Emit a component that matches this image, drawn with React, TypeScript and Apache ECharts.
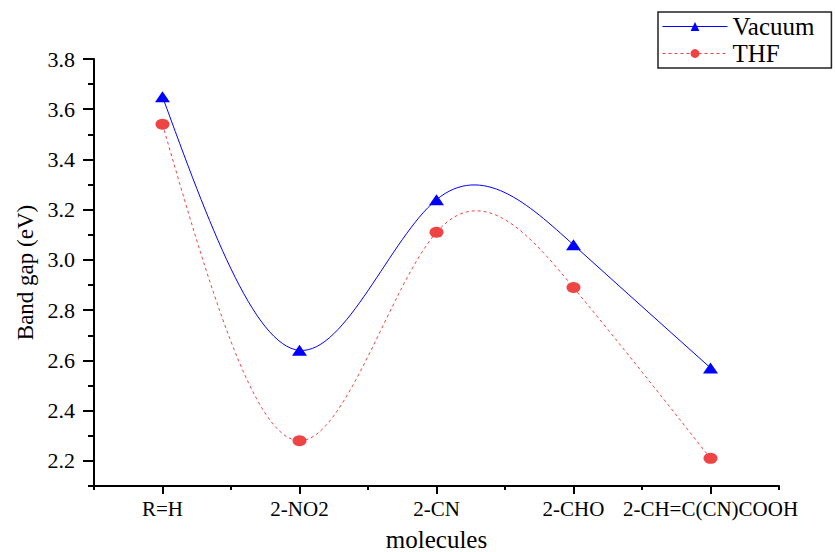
import React, { useEffect, useRef } from "react";
import * as echarts from "echarts";

const categories = ["R=H", "2-NO2", "2-CN", "2-CHO", "2-CH=C(CN)COOH"];
const vacuum = [3.65, 2.64, 3.24, 3.06, 2.57];
const thf = [3.54, 2.28, 3.11, 2.89, 2.21];
const yMajorTicks = [2.2, 2.4, 2.6, 2.8, 3.0, 3.2, 3.4, 3.6, 3.8];
const yMinorTicks = [2.1, 2.3, 2.5, 2.7, 2.9, 3.1, 3.3, 3.5, 3.7];

const FONT = "Liberation Serif";
const BLUE = "#0000FF";
const RED = "#EE4444";

// Natural cubic spline slopes (unit spacing), used only to draw the connecting curve
function splineSlopes(ys: number[]): number[][] {
  const n = ys.length;
  const M = new Array(n).fill(0);
  const m = n - 2;
  if (m > 0) {
    const a = new Array(m).fill(1);
    const b = new Array(m).fill(4);
    const c = new Array(m).fill(1);
    const d = new Array(m);
    for (let i = 0; i < m; i++) d[i] = 6 * (ys[i + 2] - 2 * ys[i + 1] + ys[i]);
    for (let i = 1; i < m; i++) {
      const w = a[i] / b[i - 1];
      b[i] -= w * c[i - 1];
      d[i] -= w * d[i - 1];
    }
    const x = new Array(m);
    x[m - 1] = d[m - 1] / b[m - 1];
    for (let i = m - 2; i >= 0; i--) x[i] = (d[i] - c[i] * x[i + 1]) / b[i];
    for (let i = 0; i < m; i++) M[i + 1] = x[i];
  }
  const out: number[][] = [];
  for (let i = 0; i < n - 1; i++) {
    const dy = ys[i + 1] - ys[i];
    out.push([dy - (2 * M[i] + M[i + 1]) / 6, dy + (M[i] + 2 * M[i + 1]) / 6]);
  }
  return out;
}

function curveSeries(name: string, ys: number[], color: string, dash: number[] | null) {
  const slopes = splineSlopes(ys);
  return {
    name,
    type: "custom",
    data: [[0, ys[0]]],
    silent: true,
    z: 1,
    renderItem: (_params: any, api: any) => {
      const children: any[] = [];
      for (let i = 0; i < ys.length - 1; i++) {
        const p0 = api.coord([i, ys[i]]);
        const p1 = api.coord([i + 1, ys[i + 1]]);
        const c1y = api.coord([i, ys[i] + slopes[i][0] / 3])[1];
        const c2y = api.coord([i + 1, ys[i + 1] - slopes[i][1] / 3])[1];
        const dx = (p1[0] - p0[0]) / 3;
        children.push({
          type: "bezierCurve",
          shape: { x1: p0[0], y1: p0[1], x2: p1[0], y2: p1[1], cpx1: p0[0] + dx, cpy1: c1y, cpx2: p1[0] - dx, cpy2: c2y },
          style: { stroke: color, lineWidth: 1, fill: null, lineDash: dash || undefined },
        });
      }
      return { type: "group", children };
    },
  };
}

export default function App() {
  const ref = useRef<HTMLDivElement>(null);
  useEffect(() => {
    if (!ref.current) return;
    const chart = echarts.init(ref.current, null, { renderer: "svg" });
    const axisLineStyle = { color: "#000", width: 2 };
    chart.setOption({
      animation: false,
      backgroundColor: "#fff",
      textStyle: { fontFamily: FONT },
      grid: { left: 94, right: 56, top: 59, bottom: 66, containLabel: false, outerBoundsMode: "none" },
      legend: {
        left: 658, top: 12, orient: "vertical", itemWidth: 65, itemHeight: 11, itemGap: 2,
        padding: [2, 17, 2, 4], borderColor: "#222", borderWidth: 1.5,
        textStyle: { fontSize: 25, fontFamily: FONT, color: "#000" },
        data: [
          { name: "Vacuum", lineStyle: { opacity: 1, color: BLUE, width: 1, type: "solid" } },
          { name: "THF", lineStyle: { opacity: 1, color: RED, width: 1, type: [3, 3] } },
        ],
      },
      xAxis: [
        {
          type: "category", data: categories, boundaryGap: true,
          axisLine: { show: true, lineStyle: axisLineStyle },
          axisTick: { show: true, length: 4, interval: 0, lineStyle: { width: 2, color: "#000" } },
          axisLabel: { interval: 0, margin: 12, fontSize: 21, color: "#000", fontFamily: FONT },
          splitLine: { show: false },
          name: "molecules", nameLocation: "middle", nameGap: 41,
          nameTextStyle: { fontSize: 25, color: "#000", fontFamily: FONT },
        },
        {
          type: "category", data: categories, position: "bottom", boundaryGap: true,
          axisLine: { show: false },
          axisTick: { show: true, alignWithLabel: true, interval: 0, length: 8, lineStyle: { width: 2, color: "#000" } },
          axisLabel: { show: false }, splitLine: { show: false },
        },
      ],
      yAxis: [
        {
          type: "value", min: 2.1, max: 3.8,
          axisLine: { show: true, lineStyle: axisLineStyle },
          axisTick: { show: true, length: 11, customValues: yMajorTicks, lineStyle: { width: 2, color: "#000" } },
          axisLabel: { customValues: yMajorTicks, formatter: (v: number) => v.toFixed(1), margin: 19, fontSize: 22, color: "#000", fontFamily: FONT },
          splitLine: { show: false },
          name: "Band gap (eV)", nameLocation: "middle", nameGap: 57,
          nameTextStyle: { fontSize: 23, color: "#000", fontFamily: FONT },
        },
        {
          type: "value", min: 2.1, max: 3.8, position: "left",
          axisLine: { show: false },
          axisTick: { show: true, length: 6, customValues: yMinorTicks, lineStyle: { width: 2, color: "#000" } },
          axisLabel: { show: false }, splitLine: { show: false },
        },
      ],
      series: [
        curveSeries("VacuumCurve", vacuum, BLUE, null),
        curveSeries("THFCurve", thf, RED, [3, 3]),
        {
          name: "Vacuum", type: "line", data: vacuum, z: 3, symbol: "triangle", symbolSize: [15, 11],
          itemStyle: { color: BLUE }, lineStyle: { color: BLUE, width: 1, opacity: 0 },
        },
        {
          name: "THF", type: "line", data: thf, z: 3, symbol: "circle", symbolSize: [14, 11],
          itemStyle: { color: RED }, lineStyle: { color: RED, width: 1, opacity: 0, type: [3, 3] },
        },
      ],
    });
    return () => chart.dispose();
  }, []);
  return <div ref={ref} style={{ position: "fixed", left: 0, top: 0, width: 835, height: 552, background: "#fff" }} />;
}
